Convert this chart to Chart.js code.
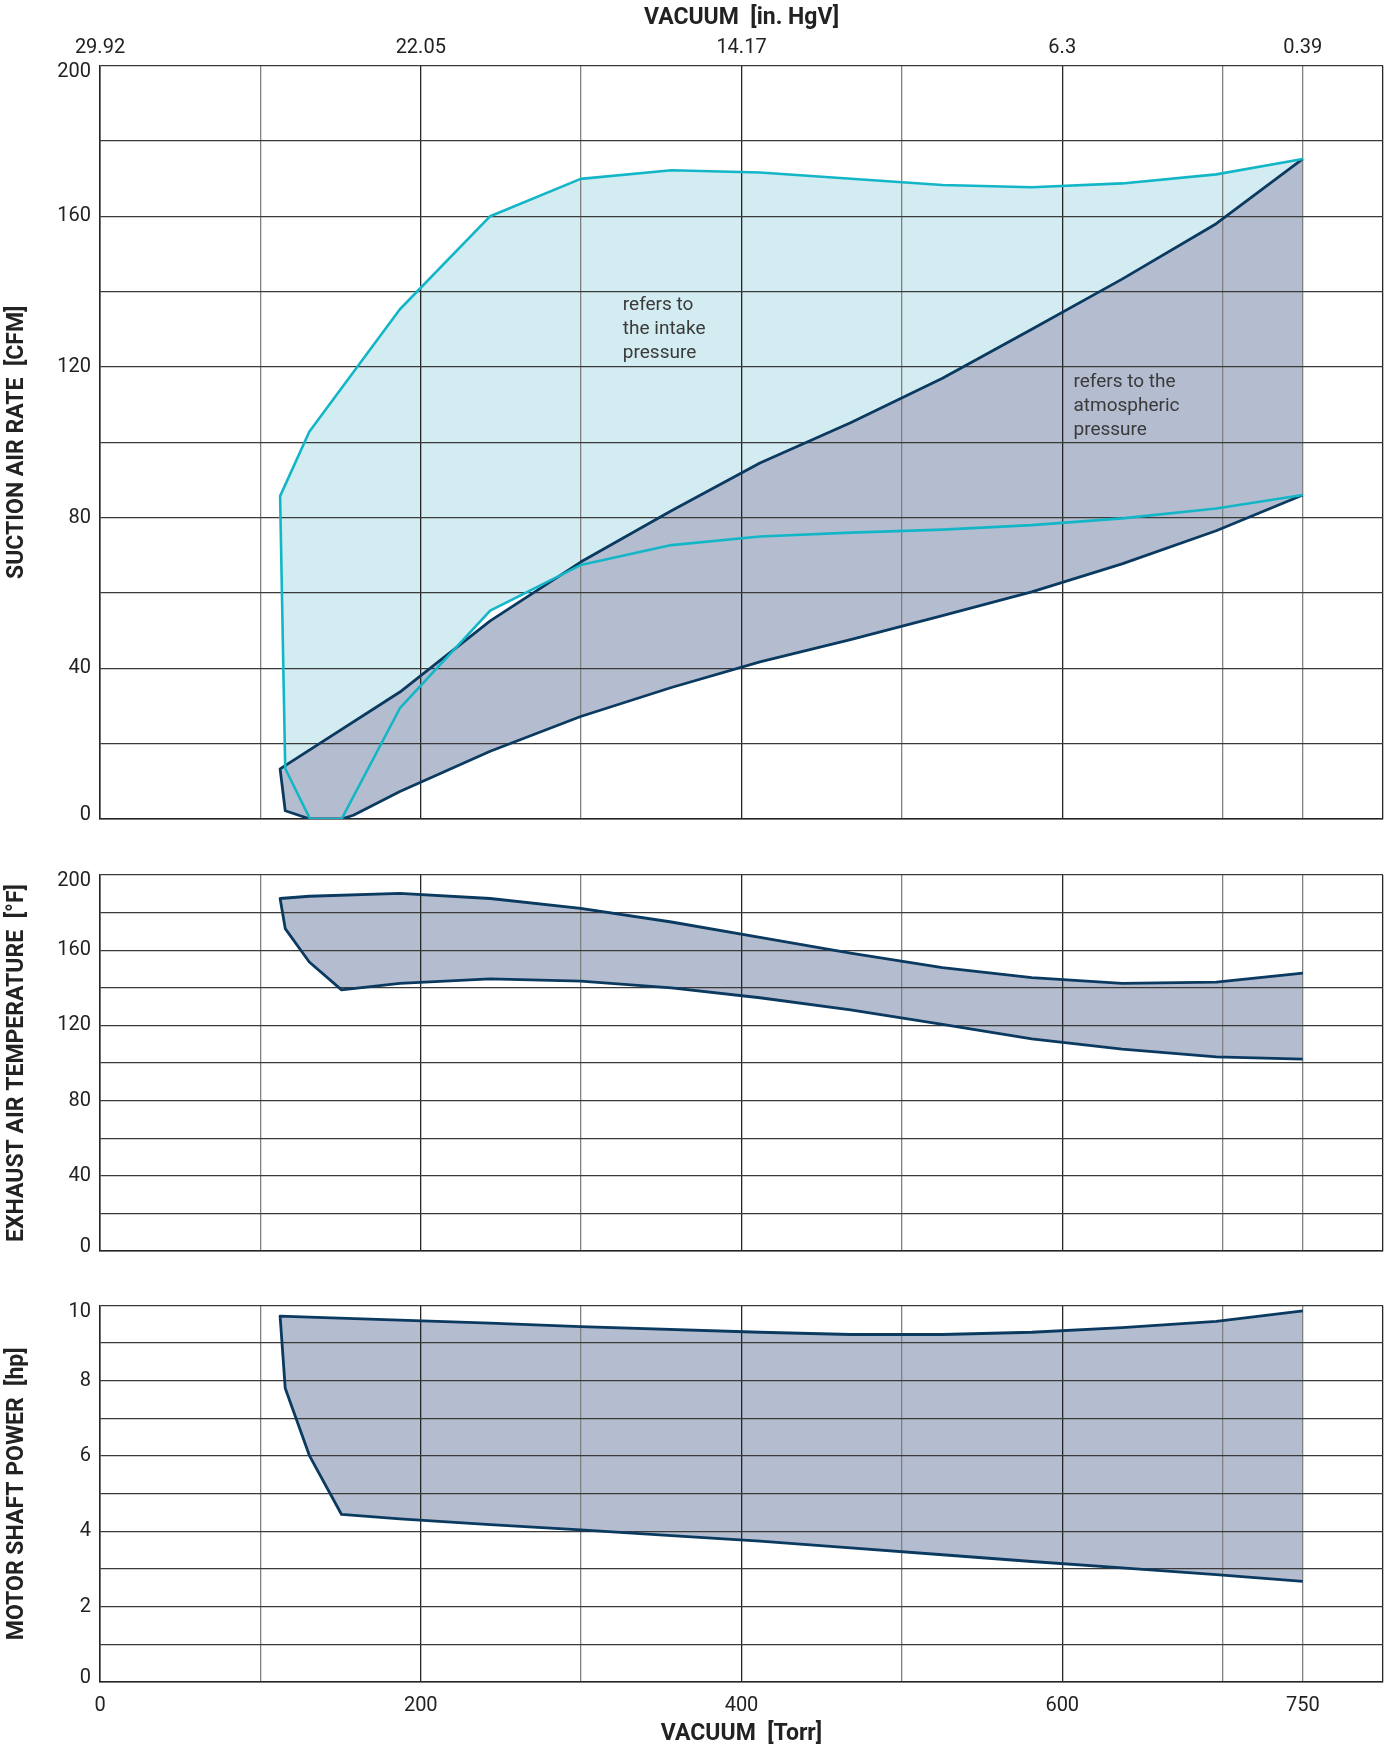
<!DOCTYPE html>
<html><head><meta charset="utf-8">
<script src="https://cdn.jsdelivr.net/npm/chart.js@4.4.1/dist/chart.umd.min.js"></script>
<style>
html,body{margin:0;padding:0;background:#fff;}
body{width:1384px;height:1745px;position:relative;overflow:hidden;}
.c{position:absolute;left:0;width:1384px;}
</style></head><body>
<div class="c" style="top:0;height:840px"><canvas id="c1"></canvas></div>
<div class="c" style="top:850px;height:420px"><canvas id="c2"></canvas></div>
<div class="c" style="top:1280px;height:465px"><canvas id="c3"></canvas></div>
<script>
// ---------- data ----------
const torrGrid = [0,100,200,300,400,500,600,700,750,800];
const torrLabels = [0,200,400,600,750];
const hgvLabels = ['29.92','22.05','14.17','6.3','0.39'];

// Suction air rate [CFM] – intake pressure (cyan band)
const intakeUpper = [[112.3,85.7],[130.5,102.8],[187,135.3],[243.3,160],[299.7,169.9],[356.3,172.2],[411.5,171.6],[525.3,168.3],[581,167.7],[637.3,168.7],[696,171.1],[750,175.2]];
const intakeLower = [[115.5,13.4],[131,0],[150.6,0],[187,29.4],[243.3,55.3],[299.7,67.4],[356.3,72.7],[411.5,75],[468,76],[525.3,76.8],[581,78],[637.3,79.8],[696,82.4],[750,86]];
// Suction air rate [CFM] – atmospheric pressure (navy band)
const atmUpper = [[112.3,13.3],[187,33.7],[243.3,52.6],[299.7,68.2],[356.3,81.8],[411.5,94.5],[468,105.2],[525.3,117],[581,130],[637.3,143.3],[696,158],[750,175.2]];
const atmLower = [[115.5,2.2],[131,0],[150.6,0],[158,1],[187,7.3],[243.3,18],[299.7,27.2],[356.3,34.9],[411.5,41.7],[468,47.6],[525.3,54],[581,60.3],[637.3,67.7],[696,76.5],[750,86]];
// Exhaust air temperature [°F]
const tempUpper = [[112.3,187.5],[130.5,188.7],[187,190.2],[243.3,187.5],[299.7,182.2],[356.3,175],[411.5,166.8],[468,158.5],[525.3,150.7],[581,145.4],[637.3,142.4],[696,143],[750,147.8]];
const tempLower = [[115.5,171.5],[130.5,153.7],[150.6,138.9],[187,142.4],[243.3,144.8],[299.7,143.6],[356.3,140],[411.5,134.7],[468,128.2],[525.3,120.5],[581,112.8],[637.3,107.4],[696,103.3],[750,102.1]];
// Motor shaft power [hp]
const powerUpper = [[112.3,9.72],[130.5,9.69],[243.3,9.53],[299.7,9.44],[411.5,9.29],[468,9.23],[525.3,9.23],[581,9.29],[637.3,9.41],[696,9.58],[750,9.86]];
const powerLower = [[115.5,7.8],[130.5,6.02],[150.6,4.45],[187,4.33],[243.3,4.18],[299.7,4.04],[356.3,3.89],[411.5,3.74],[468,3.56],[525.3,3.38],[581,3.2],[637.3,3.03],[696,2.85],[750,2.67]];

// ---------- styling ----------
const CYAN = '#13b6c7', CYAN_FILL = '#d3ecf1';
const NAVY = '#0b3a60', NAVY_FILL = '#b4bccf';
const FONT = 'Roboto, "Open Sans", sans-serif';
const TXT = '#222';

function band(upper, lower){
  return upper.slice().reverse().concat(lower).map(p => ({x:p[0], y:p[1]}));
}
function ds(data, opts){
  return Object.assign({data, pointRadius:0, tension:0, borderWidth:0, fill:false, borderJoinStyle:'round'}, opts);
}

const notesPlugin = {
  id:'notes',
  afterDatasetsDraw(chart, args, opts){
    if(!opts.items) return;
    const {ctx, scales} = chart;
    ctx.save();
    ctx.font = '19px ' + FONT;
    ctx.fillStyle = '#3a3a3a';
    ctx.textBaseline = 'middle';
    ctx.textAlign = 'left';
    opts.items.forEach(it => {
      const x = scales.x.getPixelForValue(it.x);
      const y = scales.y.getPixelForValue(it.y);
      it.lines.forEach((l,i) => ctx.fillText(l, x, y + i*24));
    });
    ctx.restore();
  }
};

function xAxis(showLabels, height){
  return {
    type:'linear', min:0, max:800, position:'bottom',
    afterBuildTicks: s => { s.ticks = torrGrid.map(v => ({value:v})); },
    afterFit: s => { s.height = height; s.paddingLeft = 0; s.paddingRight = 0; },
    grid:{ drawTicks:false, lineWidth:1.3,
      color: c => (c.tick && c.tick.value % 200 === 0) ? '#262626' : '#808080' },
    border:{ color:'#262626', width:1.5 },
    ticks:{ display:showLabels, padding:12, maxRotation:0, autoSkip:false, color:TXT,
      font:{family:FONT, size:20},
      callback: v => torrLabels.includes(v) ? String(v) : '' },
    title: showLabels ? { display:true, text:'VACUUM  [Torr]', color:TXT,
      font:{family:FONT, size:23, weight:'bold'}, padding:{top:0,bottom:-3} } : {display:false}
  };
}
// the extreme labels sit slightly inside the plot (top one lower, bottom one higher)
function yAxis(max, step, labelStep, title){
  return {
    type:'linear', min:0, max:max,
    afterFit: s => { s.width = 100; },
    grid:{ drawTicks:false, lineWidth:1.3, color:'#3a3a3a' },
    border:{ color:'#262626', width:1.5 },
    ticks:{ stepSize:step, padding:9, color:TXT,
      font: c => {
        const v = c.tick ? c.tick.value : null;
        const lh = v === max ? '12px' : (v === 0 ? '9px' : 1.2);
        return {family:FONT, size:20, lineHeight:lh};
      },
      callback: v => {
        if (Math.round(v/labelStep)*labelStep !== v) return '';
        if (v === max) return ['', String(v)];
        if (v === 0) return [String(v), ''];
        return String(v);
      } },
    title:{ display:true, text:title, color:TXT,
      font:{family:FONT, size:23, weight:'bold'}, padding:{top:3,bottom:0} }
  };
}
const common = {
  responsive:true, maintainAspectRatio:false, animation:false, devicePixelRatio:1,
  events:[],
};
function plugins(extra){
  return Object.assign({ legend:{display:false}, tooltip:{enabled:false},
    filler:{ drawTime:'beforeDraw' } }, extra||{});
}

// ---------- chart 1: suction air rate ----------
const intakeBand = band(intakeUpper, intakeLower);
const atmBand = band(atmUpper, atmLower);
new Chart(document.getElementById('c1'), {
  type:'line',
  data:{ datasets:[
    ds(intakeBand, {borderColor:CYAN, borderWidth:2.6, order:0}),
    ds(atmBand, {borderColor:NAVY, borderWidth:2.8, backgroundColor:NAVY_FILL, fill:'shape', order:1}),
    ds(intakeBand, {backgroundColor:CYAN_FILL, fill:'shape', order:2})
  ]},
  options: Object.assign({}, common, {
    layout:{ padding:{left:0,right:1,top:0,bottom:0} },
    scales:{
      x: xAxis(false, 21),
      x2:{ type:'linear', min:0, max:800, position:'top',
        afterBuildTicks: s => { s.ticks = torrLabels.map(v => ({value:v})); },
        afterFit: s => { s.height = 65.5; s.paddingLeft = 0; s.paddingRight = 0; },
        grid:{display:false, drawTicks:false}, border:{display:false},
        ticks:{ padding:6, maxRotation:0, autoSkip:false, color:TXT, font:{family:FONT, size:20},
          callback: v => hgvLabels[torrLabels.indexOf(v)] },
        title:{ display:true, text:'VACUUM  [in. HgV]', color:TXT,
          font:{family:FONT, size:23, weight:'bold'}, padding:{top:4,bottom:0} } },
      y: yAxis(200, 20, 40, 'SUCTION AIR RATE  [CFM]')
    },
    plugins: plugins({ notes:{ items:[
      {x:326, y:136.4, lines:['refers to','the intake','pressure']},
      {x:607, y:116, lines:['refers to the','atmospheric','pressure']}
    ]}})
  }),
  plugins:[notesPlugin]
});

// ---------- chart 2: exhaust air temperature ----------
new Chart(document.getElementById('c2'), {
  type:'line',
  data:{ datasets:[
    ds(band(tempUpper, tempLower), {borderColor:NAVY, borderWidth:2.8, backgroundColor:NAVY_FILL, fill:'shape'})
  ]},
  options: Object.assign({}, common, {
    layout:{ padding:{left:0,right:1,top:25,bottom:0} },
    scales:{ x: xAxis(false, 19), y: yAxis(200, 20, 40, 'EXHAUST AIR TEMPERATURE  [°F]') },
    plugins: plugins()
  })
});

// ---------- chart 3: motor shaft power ----------
new Chart(document.getElementById('c3'), {
  type:'line',
  data:{ datasets:[
    ds(band(powerUpper, powerLower), {borderColor:NAVY, borderWidth:2.8, backgroundColor:NAVY_FILL, fill:'shape'})
  ]},
  options: Object.assign({}, common, {
    layout:{ padding:{left:0,right:1,top:25.5,bottom:0} },
    scales:{ x: xAxis(true, 63), y: yAxis(10, 1, 2, 'MOTOR SHAFT POWER  [hp]') },
    plugins: plugins()
  })
});
</script>
</body></html>
